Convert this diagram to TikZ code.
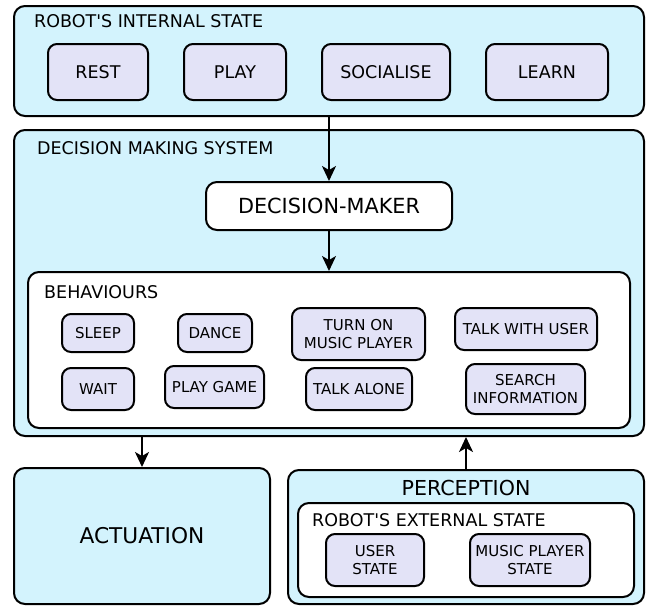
\documentclass[tikz,border=0pt]{standalone}
\usepackage{fontspec}
\setmainfont{DejaVu Sans}[Ligatures=TeXOff]
\usetikzlibrary{arrows.meta}
\definecolor{panelfill}{HTML}{D3F3FD}
\definecolor{itemfill}{HTML}{E3E3F7}
\tikzset{
  panel/.style={draw=black, line width=2pt, rounded corners=11pt, fill=panelfill},
  whitepanel/.style={draw=black, line width=2pt, rounded corners=11pt, fill=white},
  item/.style={draw=black, line width=2pt, rounded corners=9pt, fill=itemfill,
    align=center, inner sep=0pt, font=\fontsize{15}{18.5}\selectfont},
  bigitem/.style={item, font=\fontsize{17.5}{20}\selectfont},
  title/.style={anchor=base west, inner sep=0pt, font=\fontsize{17.5}{20}\selectfont},
  flow/.style={line width=2pt, -{Stealth[length=15pt, width=14pt, inset=4pt]}},
}
\begin{document}
\begin{tikzpicture}[x=1pt, y=-1pt]
\useasboundingbox (0,0) rectangle (649,606);

% robot's internal state
\node[panel, minimum width=630pt, minimum height=110pt] (internal) at (329,61) {};
\node[title] (internaltitle) at (34,27.5) {ROBOT'S INTERNAL STATE};
\node[bigitem, minimum width=100pt, minimum height=56pt] (rest) at (98,72) {REST};
\node[bigitem, minimum width=102pt, minimum height=56pt] (play) at (235,72) {PLAY};
\node[bigitem, minimum width=128pt, minimum height=56pt] (socialise) at (386,72) {SOCIALISE};
\node[bigitem, minimum width=122pt, minimum height=56pt] (learn) at (547,72) {LEARN};

% decision making system
\node[panel, minimum width=630pt, minimum height=306pt] (dms) at (329,283) {};
\node[title] (dmstitle) at (37,154.5) {DECISION MAKING SYSTEM};
\node[whitepanel, minimum width=246pt, minimum height=48pt,
      font=\fontsize{20.8}{24}\selectfont] (maker) at (329,206) {DECISION-MAKER};

% behaviours
\node[whitepanel, minimum width=602pt, minimum height=156pt] (behav) at (329,350) {};
\node[title] (behavtitle) at (44,298) {BEHAVIOURS};
\node[item, minimum width=72pt, minimum height=38pt] (sleep) at (98,333) {SLEEP};
\node[item, minimum width=74pt, minimum height=38pt] (dance) at (215,333) {DANCE};
\node[item, minimum width=133pt, minimum height=52pt] (music) at (358.5,334) {TURN ON\\MUSIC PLAYER};
\node[item, minimum width=142pt, minimum height=42pt] (talkuser) at (526,329) {TALK WITH USER};
\node[item, minimum width=72pt, minimum height=42pt] (wait) at (98,389) {WAIT};
\node[item, minimum width=99pt, minimum height=42pt] (game) at (214.5,387) {PLAY GAME};
\node[item, minimum width=106pt, minimum height=42pt] (alone) at (359,389) {TALK ALONE};
\node[item, minimum width=119pt, minimum height=50pt] (search) at (525.5,389) {SEARCH\\INFORMATION};

% actuation
\node[panel, minimum width=256pt, minimum height=136pt,
      font=\fontsize{21.7}{24}\selectfont] (act) at (142,536) {ACTUATION};

% perception
\node[panel, minimum width=356pt, minimum height=134pt] (perc) at (466,537) {};
\node[inner sep=0pt, font=\fontsize{20.6}{24}\selectfont] (perctitle) at (466,488) {PERCEPTION};
\node[whitepanel, minimum width=336pt, minimum height=94pt] (ext) at (466,550) {};
\node[title] (exttitle) at (312,526.5) {ROBOT'S EXTERNAL STATE};
\node[item, minimum width=98pt, minimum height=52pt] (user) at (375,560) {USER\\STATE};
\node[item, minimum width=120pt, minimum height=52pt] (player) at (530,560) {MUSIC PLAYER\\STATE};

% connectors
\draw[flow] (internal.south) -- (maker.north);
\draw[flow] (maker.south) -- (behav.north);
\draw[flow] (dms.south -| act.north) -- (act.north);
\draw[flow] (perc.north) -- (dms.south -| perc.north);
\end{tikzpicture}
\end{document}
